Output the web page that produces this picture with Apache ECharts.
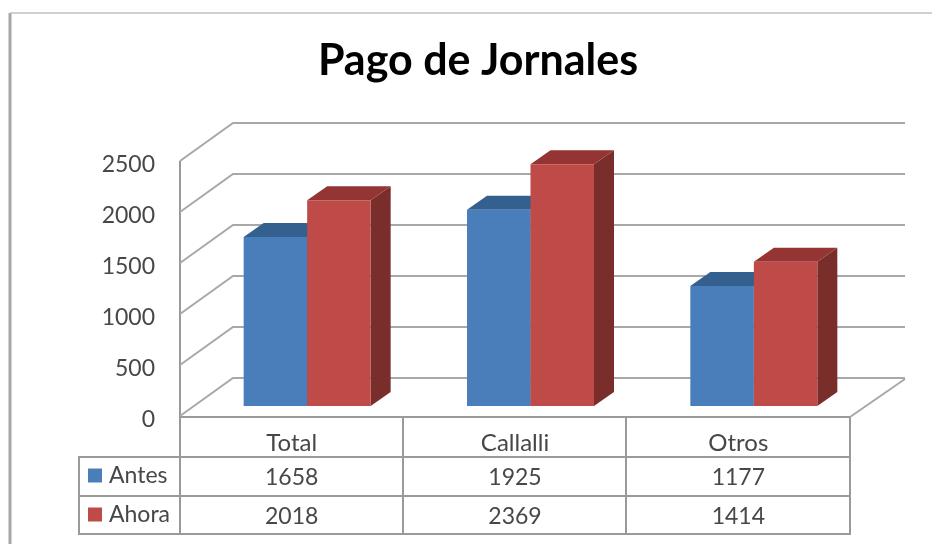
<!DOCTYPE html>
<html>
<head>
<meta charset="utf-8">
<title>Pago de Jornales</title>
<script src="https://cdn.jsdelivr.net/npm/echarts@6/dist/echarts.min.js"></script>
<style>
  html, body { margin: 0; padding: 0; background: #fff; }
  #chart { width: 932px; height: 544px; }
</style>
</head>
<body>
<div id="chart"></div>
<script>
const categories = ['Total', 'Callalli', 'Otros']
const antes = [1658, 1925, 1177]
const ahora = [2018, 2369, 1414]
const yTicks = [0, 500, 1000, 1500, 2000, 2500]

const FONT = 'Lato, "Open Sans", sans-serif'
const TEXT = '#474747'
const LINE = '#a8a8a8'
const TABLE_LINE = '#9a9a9a'

// depth of the fake 3d box
const WALL_DX = 53
const WALL_DY = -38
const BAR_DX = 20
const BAR_DY = -14
const BAR_W = 63.5
const BAR_SHIFT = 15.5 // bars sit a bit right of the band centre
const BAR_LIFT = -10 // and a bit back from the floor edge

const chart = echarts.init(document.getElementById('chart'))

function poly(points, fill) {
  return { type: 'polygon', shape: { points }, style: { fill, stroke: null } }
}

// one column: front, top and side faces
function barRenderer(side, colors) {
  return function (params, api) {
    const cat = api.value(0)
    const top = api.coord([cat, api.value(1)])
    const base = api.coord([cat, 0])
    const y1 = top[1] + BAR_LIFT
    const y0 = base[1] + BAR_LIFT
    const xc = base[0] + BAR_SHIFT
    const x0 = side < 0 ? xc - BAR_W : xc
    const x1 = x0 + BAR_W
    return {
      type: 'group',
      children: [
        poly([[x1, y1], [x1 + BAR_DX, y1 + BAR_DY], [x1 + BAR_DX, y0 + BAR_DY], [x1, y0]], colors.side),
        poly([[x0, y1], [x0 + BAR_DX, y1 + BAR_DY], [x1 + BAR_DX, y1 + BAR_DY], [x1, y1]], colors.top),
        poly([[x0, y1], [x1, y1], [x1, y0], [x0, y0]], colors.front)
      ]
    }
  }
}

// wall gridlines, diagonal on the left wall then across the back wall
function wallRenderer(params, api) {
  const sys = params.coordSys
  const y = api.coord([0, api.value(0)])[1]
  const xl = sys.x
  const xb = xl + WALL_DX
  const xr = sys.x + sys.width + WALL_DX + 2
  return {
    type: 'polyline',
    shape: { points: [[xl, y], [xb, y + WALL_DY], [xr, y + WALL_DY]] },
    style: { fill: null, stroke: LINE, lineWidth: 2 }
  }
}

function tableCell(rowY) {
  return function (params, api) {
    const x = api.coord([api.value(0), 0])[0]
    return {
      type: 'text',
      style: {
        x, y: rowY, text: String(api.value(1)),
        font: '23px ' + FONT, fill: TEXT, align: 'center', verticalAlign: 'middle'
      }
    }
  }
}

const option = {
  animation: false,
  backgroundColor: '#fff',
  title: {
    text: 'Pago de Jornales',
    left: 473,
    top: 35,
    textAlign: 'center',
    textStyle: { fontFamily: FONT, fontSize: 43, fontWeight: 'bold', color: '#000' }
  },
  legend: {
    data: ['Antes', 'Ahora'],
    orient: 'vertical',
    left: 88,
    top: 464,
    padding: 0,
    itemWidth: 14,
    itemHeight: 14,
    itemGap: 16,
    itemStyle: { borderWidth: 0 },
    icon: 'rect',
    selectedMode: false,
    textStyle: { fontFamily: FONT, fontSize: 23, color: TEXT, padding: [0, 0, 0, 2] }
  },
  grid: { left: 180, width: 670, top: 161, height: 255 },
  xAxis: {
    type: 'category',
    data: categories,
    axisLine: { show: false },
    axisTick: { show: false },
    axisLabel: { margin: 15, fontFamily: FONT, fontSize: 24, color: TEXT }
  },
  yAxis: {
    type: 'value',
    min: 0,
    max: 2500,
    interval: 500,
    axisLine: { show: false },
    axisTick: { show: false },
    splitLine: { show: false },
    axisLabel: {
      margin: 25,
      fontFamily: FONT,
      fontSize: 23,
      color: TEXT,
      verticalAlign: 'top',
      lineHeight: 8,
      formatter: v => String(v)
    }
  },
  // table frame and outer border of the picture
  graphic: [
    { type: 'line', shape: { x1: 10, y1: 13, x2: 10, y2: 544 }, style: { stroke: '#a6a6a6', lineWidth: 3 } },
    { type: 'line', shape: { x1: 10, y1: 13, x2: 932, y2: 13 }, style: { stroke: '#c0c0c0', lineWidth: 1.5 } },
    { type: 'polyline', shape: { points: [[180, 161], [180, 534]] }, style: { fill: null, stroke: TABLE_LINE, lineWidth: 2 } },
    { type: 'polyline', shape: { points: [[180, 417], [850, 417], [850, 534], [79, 534], [79, 457], [850, 457]] }, style: { fill: null, stroke: TABLE_LINE, lineWidth: 2 } },
    { type: 'line', shape: { x1: 79, y1: 496, x2: 850, y2: 496 }, style: { stroke: TABLE_LINE, lineWidth: 2 } },
    { type: 'line', shape: { x1: 403, y1: 417, x2: 403, y2: 534 }, style: { stroke: TABLE_LINE, lineWidth: 2 } },
    { type: 'line', shape: { x1: 626, y1: 417, x2: 626, y2: 534 }, style: { stroke: TABLE_LINE, lineWidth: 2 } },
    { type: 'polyline', shape: { points: [[850, 417], [905, 379]] }, style: { fill: null, stroke: LINE, lineWidth: 2 } }
  ],
  series: [
    {
      type: 'custom',
      silent: true,
      data: yTicks.map(v => [v]),
      encode: { y: 0 },
      renderItem: wallRenderer,
      z: 1
    },
    {
      name: 'Antes',
      type: 'custom',
      itemStyle: { color: '#4a7ebb' },
      data: antes.map((v, i) => [i, v]),
      encode: { x: 0, y: 1 },
      renderItem: barRenderer(-1, { front: '#4a7ebb', top: '#33608f', side: '#2c527c' }),
      z: 2
    },
    {
      name: 'Ahora',
      type: 'custom',
      itemStyle: { color: '#be4b48' },
      data: ahora.map((v, i) => [i, v]),
      encode: { x: 0, y: 1 },
      renderItem: barRenderer(1, { front: '#be4b48', top: '#953533', side: '#7a2e2c' }),
      z: 3
    },
    {
      type: 'custom',
      silent: true,
      data: antes.map((v, i) => [i, v]),
      encode: { x: 0, y: 1 },
      renderItem: tableCell(478),
      z: 4
    },
    {
      type: 'custom',
      silent: true,
      data: ahora.map((v, i) => [i, v]),
      encode: { x: 0, y: 1 },
      renderItem: tableCell(517),
      z: 4
    }
  ]
}

chart.setOption(option)
</script>
</body>
</html>
